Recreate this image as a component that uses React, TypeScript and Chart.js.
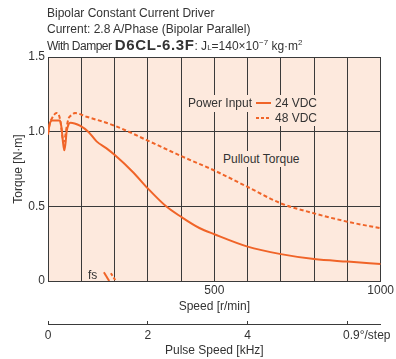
import React, { useEffect, useRef } from 'react';
import { Chart, registerables } from 'chart.js';

Chart.register(...registerables);

const FONT = '"Liberation Sans", Arial, sans-serif';
const FS = 12;
const ORANGE = '#f06428';
const PEACH = '#fde9dd';
const GRID = '#3a3a3a';
const TEXT = '#333333';

// 24 VDC pullout torque
const speed24 = [0, 5, 12, 36, 41, 45, 49, 53, 56, 62, 68, 80, 96, 121, 146, 175, 200, 255, 300, 355, 400, 455, 500, 600, 700, 800, 900, 1000];
const torque24 = [0.98, 1.05, 1.075, 1.075, 1.02, 0.93, 0.875, 0.93, 1.0, 1.05, 1.06, 1.055, 1.04, 1.0, 0.935, 0.89, 0.845, 0.73, 0.62, 0.5, 0.43, 0.355, 0.313, 0.23, 0.18, 0.147, 0.13, 0.114];

// 48 VDC pullout torque
const speed48 = [0, 5, 12, 26, 33, 38, 43, 47, 51, 56, 62, 71, 81, 116, 200, 300, 400, 500, 600, 700, 800, 900, 1000];
const torque48 = [0.99, 1.05, 1.09, 1.125, 1.11, 1.06, 0.97, 0.93, 0.96, 1.03, 1.09, 1.11, 1.125, 1.1, 1.04, 0.94, 0.837, 0.74, 0.63, 0.52, 0.453, 0.397, 0.353];

// fs (max starting speed) marks
const fsSpeed24 = [168, 184];
const fsTorque24 = [0.058, 0];
const fsSpeed48 = [189, 204];
const fsTorque48 = [0.052, 0];

// axes
const speedTicks = [0, 100, 200, 300, 400, 500, 600, 700, 800, 900, 1000];
const speedTickLabels = ['', '', '', '', '', '500', '', '', '', '', '1000'];
const torqueTicks = [0, 0.5, 1.0, 1.5];
const torqueTickLabels = ['0', '0.5', '1.0', '1.5'];
const pulseTicks = [0, 2, 4, 6];
const pulseTickLabels = ['0', '2', '4', ''];
const pulseMax = 1000 / 150; // kHz at 1000 r/min, 0.9°/step

const pts = (xs: number[], ys: number[]) => xs.map((x, i) => ({ x, y: ys[i] }));

const bgPlugin = {
  id: 'plotBg',
  beforeDraw(chart: any) {
    const { ctx, chartArea: a } = chart;
    ctx.save();
    ctx.fillStyle = PEACH;
    ctx.fillRect(a.left, a.top, a.right - a.left, a.bottom - a.top);
    ctx.restore();
  },
};

export default function App() {
  const ref = useRef<HTMLCanvasElement>(null);

  useEffect(() => {
    if (!ref.current) return;
    const lineCommon = {
      borderColor: ORANGE,
      borderWidth: 2,
      pointRadius: 0,
      fill: false,
      cubicInterpolationMode: 'monotone' as const,
    };
    const chart = new Chart(ref.current, {
      type: 'line',
      data: {
        datasets: [
          { label: '24 VDC', data: pts(speed24, torque24), ...lineCommon },
          { label: '48 VDC', data: pts(speed48, torque48), ...lineCommon, borderDash: [4, 2.5] },
          { label: 'fs 24', data: pts(fsSpeed24, fsTorque24), ...lineCommon },
          { label: 'fs 48', data: pts(fsSpeed48, fsTorque48), ...lineCommon, borderDash: [3, 2] },
        ],
      },
      options: {
        animation: false,
        responsive: false,
        events: [],
        layout: { padding: { top: 57, right: 14, left: 0, bottom: 0 } },
        plugins: { legend: { display: false }, tooltip: { enabled: false }, title: { display: false } },
        font: { family: FONT, size: FS },
        scales: {
          x: {
            type: 'linear',
            position: 'bottom',
            weight: 0,
            min: 0,
            max: 1000,
            afterBuildTicks: (s: any) => { s.ticks = speedTicks.map((v) => ({ value: v })); },
            afterFit: (s: any) => { s.height = 43; },
            grid: { color: GRID, lineWidth: 1, drawTicks: false },
            border: { display: true, color: GRID, width: 1 },
            ticks: {
              autoSkip: false,
              maxRotation: 0,
              padding: 2,
              color: TEXT,
              font: { family: FONT, size: FS },
              callback: (v: any) => { const i = speedTicks.indexOf(Number(v)); return i >= 0 ? speedTickLabels[i] : ''; },
            },
            title: { display: true, text: 'Speed [r/min]', color: TEXT, font: { family: FONT, size: FS }, padding: { top: 0, bottom: 10 } },
          },
          x2: {
            type: 'linear',
            position: 'bottom',
            weight: 1,
            min: 0,
            max: pulseMax,
            afterBuildTicks: (s: any) => { s.ticks = pulseTicks.map((v) => ({ value: v })); },
            afterFit: (s: any) => { s.height = 35; },
            grid: { drawOnChartArea: false, drawTicks: true, tickLength: -3, color: GRID, lineWidth: 1 },
            border: { display: true, color: GRID, width: 1 },
            ticks: {
              autoSkip: false,
              maxRotation: 0,
              padding: 7,
              color: TEXT,
              font: { family: FONT, size: FS },
              callback: (v: any) => { const i = pulseTicks.indexOf(Number(v)); return i >= 0 ? pulseTickLabels[i] : ''; },
            },
            title: { display: true, text: 'Pulse Speed [kHz]', color: TEXT, font: { family: FONT, size: FS }, padding: { top: 0, bottom: 1 } },
          },
          y: {
            type: 'linear',
            position: 'left',
            min: 0,
            max: 1.5,
            afterBuildTicks: (s: any) => { s.ticks = torqueTicks.map((v) => ({ value: v })); },
            afterFit: (s: any) => { s.width = 48; },
            grid: { color: GRID, lineWidth: 1, drawTicks: false },
            border: { display: true, color: GRID, width: 1 },
            ticks: {
              padding: 3,
              color: TEXT,
              font: { family: FONT, size: FS },
              callback: (v: any) => { const i = torqueTicks.indexOf(Number(v)); return i >= 0 ? torqueTickLabels[i] : ''; },
            },
            title: { display: true, text: 'Torque [N·m]', color: TEXT, font: { family: FONT, size: FS }, padding: { top: 11, bottom: 0 } },
          },
        },
      } as any,
      plugins: [bgPlugin],
    });
    return () => chart.destroy();
  }, []);

  const abs = (left: number, top: number, extra: React.CSSProperties = {}): React.CSSProperties => ({
    position: 'absolute', left, top, whiteSpace: 'nowrap', lineHeight: '16px', ...extra,
  });

  return (
    <div style={{ position: 'absolute', left: 0, top: 0, width: 396, height: 359, fontFamily: FONT, fontSize: FS, color: TEXT, background: '#fff' }}>
      <canvas ref={ref} width={396} height={359} style={{ position: 'absolute', left: 0, top: 0 }} />
      <div style={abs(47, 5)}>Bipolar Constant Current Driver</div>
      <div style={abs(47, 21)}>Current: 2.8 A/Phase (Bipolar Parallel)</div>
      <div style={abs(47, 37)}>
        <span style={{ letterSpacing: -0.5 }}>With Damper</span>{' '}
        <span style={{ fontWeight: 'bold', fontSize: 15, letterSpacing: 0.6 }}>D6CL-6.3F</span>
        : J<span style={{ fontSize: 8 }}>L</span>=140×10<sup style={{ fontSize: 8, verticalAlign: 5, lineHeight: 0 }}>−7</sup> kg·m<sup style={{ fontSize: 8, verticalAlign: 5, lineHeight: 0 }}>2</sup>
      </div>

      {/* legend */}
      <div style={abs(185, 95, { width: 70, height: 17, background: PEACH })} />
      <div style={abs(255, 95, { width: 65, height: 31, background: PEACH })} />
      <div style={abs(188, 95)}>Power Input</div>
      <svg style={{ position: 'absolute', left: 256, top: 101 }} width={15} height={4}>
        <line x1={0} y1={2} x2={15} y2={2} stroke={ORANGE} strokeWidth={2} />
      </svg>
      <div style={abs(275, 95)}>24 VDC</div>
      <svg style={{ position: 'absolute', left: 256, top: 116 }} width={15} height={4}>
        <line x1={0} y1={2} x2={15} y2={2} stroke={ORANGE} strokeWidth={2} strokeDasharray="3 2" />
      </svg>
      <div style={abs(275, 110)}>48 VDC</div>

      <div style={abs(221, 151, { background: PEACH, padding: '0 2px' })}>Pullout Torque</div>
      <div style={abs(88, 267)}>fs</div>
      <div style={abs(343, 327)}>0.9°/step</div>
    </div>
  );
}
